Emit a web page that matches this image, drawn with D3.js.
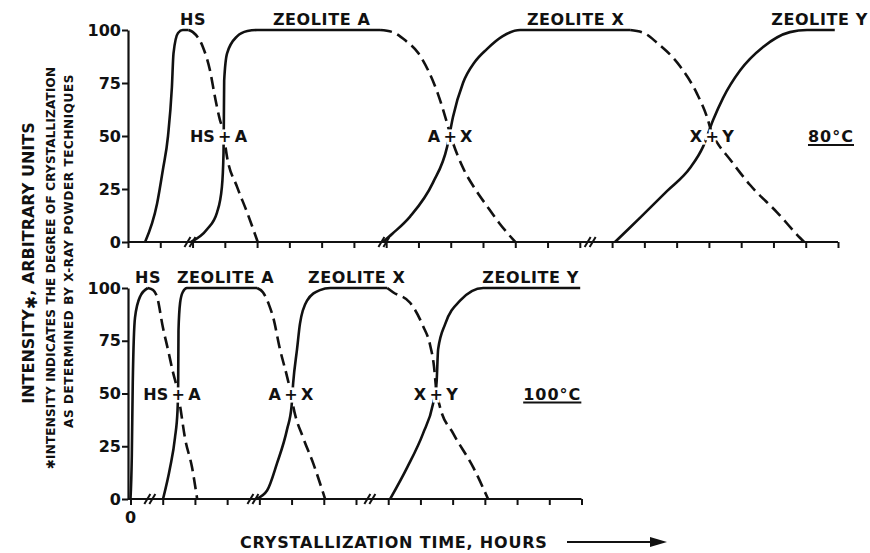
<!DOCTYPE html>
<html>
<head>
<meta charset="utf-8">
<script src="https://cdn.jsdelivr.net/npm/d3@7/dist/d3.min.js"></script>
<style>
    body { margin: 0; background: #fff; }
    svg text { font-family: "DejaVu Sans", sans-serif; font-weight: bold; fill: #111; }
</style>
</head>
<body>
<div id="chart"></div>
<script>
// x values are in units of one axis tick (time axis has no numbers), y values are intensity (%)
const yTicks = [0, 25, 50, 75, 100];
const topTicks = d3.range(0, 23);
const botTicks = d3.range(0, 15);
const topBreaks = [1.92, 7.93, 14.32];
const botBreaks = [0.6, 3.8, 7.43];

// 80 C panel
const topHsRise = [[0.53, 0], [0.9, 18], [1.08, 34], [1.24, 50], [1.36, 73], [1.41, 89], [1.55, 98.6], [1.7, 100], [1.88, 100]];
const topHsFall = [[1.88, 100], [2.01, 99], [2.32, 92], [2.54, 81], [2.7, 68], [2.85, 57.5], [2.94, 53], [3.07, 40], [3.38, 26], [3.69, 14], [4.02, 0]];
const topARise = [[1.95, 0], [2.45, 6], [2.76, 14], [2.91, 26], [2.96, 42], [2.97, 57], [2.98, 76], [3.07, 89], [3.38, 97], [3.7, 99.5], [4.0, 100], [7.81, 100]];
const topAFall = [[7.81, 100], [8.2, 99], [8.6, 95], [9.0, 89], [9.3, 81], [9.6, 70], [9.85, 58], [10.0, 50], [10.38, 35], [10.8, 24], [11.12, 17], [11.5, 9], [12.0, 0]];
const topXRise = [[7.9, 0], [8.2, 4], [8.74, 12], [9.45, 28], [9.89, 45], [10.07, 59], [10.38, 75], [10.75, 85], [11.12, 91], [11.6, 97], [12.15, 100], [15.56, 100]];
const topXFall = [[15.56, 100], [16.0, 98.5], [16.39, 94], [17.1, 83], [17.63, 70], [17.94, 59], [18.1, 51], [18.25, 47], [18.65, 39], [19.27, 27], [20.11, 14], [20.82, 2], [20.95, 0]];
const topYRise = [[15.09, 0], [15.5, 6], [15.87, 11.5], [16.7, 24], [17.42, 35], [17.82, 45], [18.13, 57.5], [18.44, 68], [18.97, 81], [19.68, 92], [20.51, 99], [21.04, 100], [21.9, 100]];

// 100 C panel
const botHsRise = [[0, 0], [0.04, 20], [0.07, 55], [0.14, 86], [0.3, 96], [0.54, 100]];
const botHsFall = [[0.54, 100], [0.7, 99], [0.82, 96], [1.01, 81], [1.16, 71], [1.32, 60], [1.45, 52], [1.54, 44], [1.69, 29], [1.91, 15], [2.07, 0]];
const botARise = [[1.01, 0], [1.23, 15], [1.38, 29], [1.46, 42], [1.48, 55], [1.49, 80], [1.54, 93], [1.62, 98], [1.75, 100], [3.93, 100]];
const botAFall = [[3.93, 100], [4.11, 98], [4.3, 92], [4.43, 86], [4.64, 71], [4.86, 58], [4.98, 50], [5.05, 44], [5.36, 29], [5.67, 17], [6.04, 0]];
const botXRise = [[3.9, 0], [4.24, 4], [4.55, 17], [4.86, 33], [5.0, 44], [5.05, 55], [5.17, 71], [5.26, 83], [5.48, 94], [5.88, 99], [6.2, 100], [7.97, 100]];
const botXFall = [[7.97, 100], [8.15, 98], [8.68, 93], [9.08, 82], [9.3, 73], [9.42, 63], [9.49, 52], [9.6, 44], [10.02, 31], [10.64, 15], [11.1, 0]];
const botYRise = [[8.06, 0], [8.59, 15], [9.08, 31], [9.39, 45], [9.5, 55], [9.55, 71], [9.77, 83], [10.23, 94], [10.95, 100], [13.96, 100]];

// labels
const topPhaseNames = ["HS", "ZEOLITE A", "ZEOLITE X", "ZEOLITE Y"];
const topPhaseAt = [1.61, 4.49, 12.36, 19.93];
const botPhaseNames = ["HS", "ZEOLITE A", "ZEOLITE X", "ZEOLITE Y"];
const botPhaseAt = [0.14, 1.44, 5.51, 10.92];
const mixNames = [["HS", "A"], ["A", "X"], ["X", "Y"]];
const topMixAt = [3.0, 9.98, 18.1];
const botMixAt = [1.48, 4.98, 9.49];

const svg = d3.select("#chart").append("svg")
    .attr("width", 870)
    .attr("height", 553)
    .style("display", "block");

function drawPanel(p) {
    const g = svg.append("g");

    // y axis
    const yAxis = g.append("g")
        .attr("transform", "translate(128,0)")
        .call(d3.axisLeft(p.y).tickValues(yTicks).tickSize(6).tickPadding(1).tickSizeOuter(0));
    yAxis.attr("font-size", 16).attr("font-family", null).style("color", "#111");
    yAxis.select(".domain").attr("stroke-width", 2.2);
    yAxis.selectAll(".tick line").attr("stroke-width", 2);

    // x axis, no numbers
    const y0 = p.y(0);
    const xAxis = g.append("g")
        .attr("transform", `translate(0,${y0})`)
        .call(d3.axisBottom(p.x).tickValues(p.ticks).tickSize(6).tickFormat("").tickSizeOuter(0));
    xAxis.style("color", "#111");
    xAxis.select(".domain").attr("d", `M128,0H${p.x.range()[1]}`).attr("stroke-width", 2.2);
    xAxis.selectAll(".tick line").attr("stroke-width", 2);

    // axis breaks //
    p.breaks.forEach(b => {
        [-2.5, 2.5].forEach(off => {
            g.append("line")
                .attr("x1", p.x(b) + off - 3).attr("y1", y0 + 5)
                .attr("x2", p.x(b) + off + 3).attr("y2", y0 - 5)
                .attr("stroke", "#111")
                .attr("stroke-width", 2);
        });
    });

    const line = d3.line()
        .x(d => p.x(d[0]))
        .y(d => p.y(d[1]))
        .curve(d3.curveMonotoneX);

    p.series.forEach(s => {
        g.append("path")
            .datum(s.values)
            .attr("d", line)
            .attr("fill", "none")
            .attr("stroke", "#111")
            .attr("stroke-width", 2.6)
            .attr("stroke-dasharray", s.dashed ? "12,6" : null);
    });

    // phase names above the plateaus
    p.phaseNames.forEach((name, i) => {
        g.append("text")
            .attr("x", p.x(p.phaseAt[i]))
            .attr("y", p.y(100) - 5)
            .attr("font-size", 16)
            .attr("letter-spacing", 0.6)
            .text(name);
    });

    // mixture labels sitting on the crossings
    const ym = p.y(50) + 6;
    mixNames.forEach((pair, i) => {
        const cx = p.x(p.mixAt[i]);
        const halo = sel => sel.attr("font-size", 16)
            .attr("stroke", "#fff").attr("stroke-width", 5)
            .attr("paint-order", "stroke").attr("y", ym);
        g.append("text").call(halo).attr("x", cx - 10).attr("text-anchor", "end").text(pair[0]);
        g.append("text").call(halo).attr("x", cx + 10).text(pair[1]);
        g.append("text").call(halo).attr("x", cx).attr("text-anchor", "middle").text("+");
    });

    // temperature, underlined
    const t = g.append("text")
        .attr("x", p.x(p.tempAt))
        .attr("y", ym)
        .attr("font-size", 16)
        .attr("letter-spacing", 1)
        .text(p.temp);
    const w = t.node().getComputedTextLength();
    g.append("line")
        .attr("x1", p.x(p.tempAt)).attr("x2", p.x(p.tempAt) + w)
        .attr("y1", ym + 3).attr("y2", ym + 3)
        .attr("stroke", "#111").attr("stroke-width", 2);
}

const topX = d3.scaleLinear().domain([0, 22]).range([128, 838]);
const topY = d3.scaleLinear().domain([0, 100]).range([242, 30]);
const botX = d3.scaleLinear().domain([0, 14]).range([130.5, 581.5]);
const botY = d3.scaleLinear().domain([0, 100]).range([499, 288]);

drawPanel({
    x: topX, y: topY, ticks: topTicks, breaks: topBreaks,
    series: [
        { values: topHsRise }, { values: topHsFall, dashed: true },
        { values: topARise }, { values: topAFall, dashed: true },
        { values: topXRise }, { values: topXFall, dashed: true },
        { values: topYRise }
    ],
    phaseNames: topPhaseNames, phaseAt: topPhaseAt,
    mixAt: topMixAt, temp: "80°C", tempAt: 21.07
});

drawPanel({
    x: botX, y: botY, ticks: botTicks, breaks: botBreaks,
    series: [
        { values: botHsRise }, { values: botHsFall, dashed: true },
        { values: botARise }, { values: botAFall, dashed: true },
        { values: botXRise }, { values: botXFall, dashed: true },
        { values: botYRise }
    ],
    phaseNames: botPhaseNames, phaseAt: botPhaseAt,
    mixAt: botMixAt, temp: "100°C", tempAt: 12.19
});

// origin label
svg.append("text")
    .attr("x", botX(0))
    .attr("y", 523)
    .attr("text-anchor", "middle")
    .attr("font-size", 16)
    .text("0");

// x axis title with arrow
svg.append("text")
    .attr("x", 240)
    .attr("y", 548)
    .attr("font-size", 16)
    .attr("letter-spacing", 0.8)
    .text("CRYSTALLIZATION TIME, HOURS");

svg.append("line")
    .attr("x1", 567).attr("x2", 652)
    .attr("y1", 542).attr("y2", 542)
    .attr("stroke", "#111").attr("stroke-width", 2.2);
svg.append("path")
    .attr("d", "M650,537L667,542L650,547Z")
    .attr("fill", "#111");

// y axis titles, rotated
const yTitle = svg.append("text")
    .attr("transform", "translate(28,263) rotate(-90)")
    .attr("text-anchor", "middle")
    .attr("dy", "0.35em")
    .attr("font-size", 16);
yTitle.append("tspan").text("INTENSITY");
yTitle.append("tspan").attr("dy", 3).text("✱");
yTitle.append("tspan").attr("dy", -3).text(", ARBITRARY UNITS");

svg.append("text")
    .attr("transform", "translate(51,268) rotate(-90)")
    .attr("text-anchor", "middle")
    .attr("dy", "0.35em")
    .attr("font-size", 12)
    .attr("letter-spacing", 0.2)
    .text("✱INTENSITY INDICATES THE DEGREE OF CRYSTALLIZATION");

svg.append("text")
    .attr("transform", "translate(69,251) rotate(-90)")
    .attr("text-anchor", "middle")
    .attr("dy", "0.35em")
    .attr("font-size", 12)
    .attr("letter-spacing", 0.6)
    .text("AS DETERMINED BY X-RAY POWDER TECHNIQUES");
</script>
</body>
</html>
